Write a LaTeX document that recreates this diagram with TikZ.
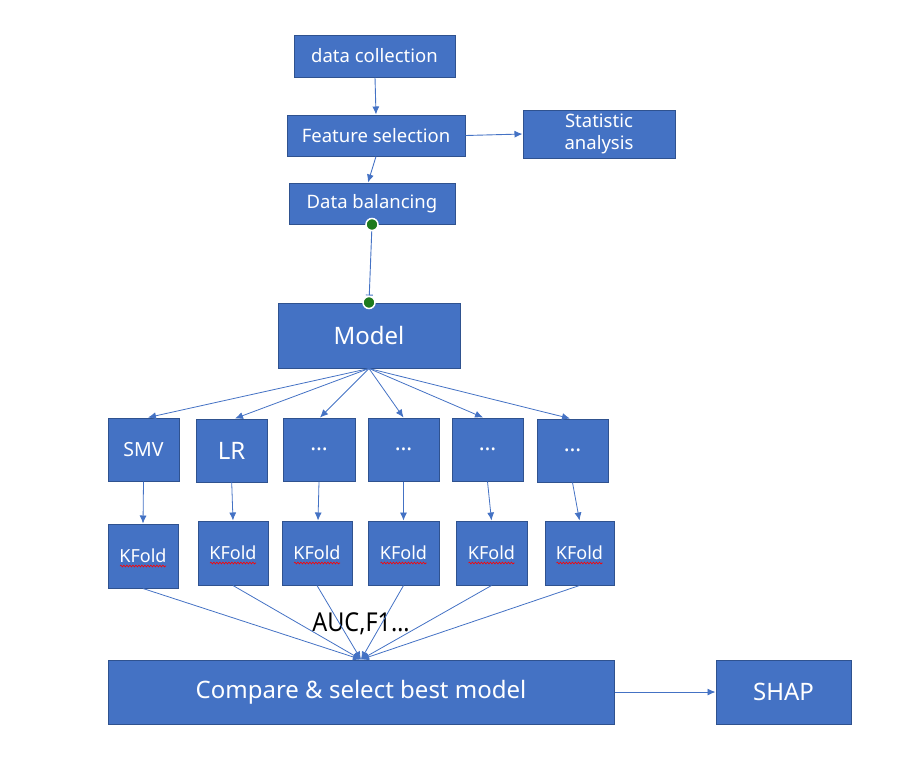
\documentclass[tikz,border=0pt]{standalone}
\usepackage{fontspec}
\setmainfont{Noto Sans}
\newfontfamily\narrowfont[FakeStretch=0.9]{Noto Sans}
\usetikzlibrary{arrows.meta,decorations.pathmorphing,calc}
\definecolor{blu}{HTML}{4472C4}
\definecolor{bdr}{HTML}{2F528F}
\definecolor{dotg}{HTML}{1E7A1E}
\newcommand{\fs}[1]{\fontsize{#1}{#1}\selectfont}
\tikzset{
  box/.style={draw=bdr, line width=1pt, fill=blu, text=white, inner sep=0pt, align=center},
  conn/.style={draw=blu, line width=0.9pt, -{Latex[length=8pt,width=7pt]}},
  fanline/.style={draw=blu, line width=0.8pt, -{Latex[length=8pt,width=7pt]}},
  gdot/.style={circle, fill=dotg, draw=white, line width=1.5pt, minimum size=12pt, inner sep=0pt},
  squig/.style={draw=red, line width=0.6pt, decorate, decoration={snake, amplitude=0.9pt, segment length=3pt}}
}
\begin{document}
\begin{tikzpicture}[x=1pt,y=-1pt]
\useasboundingbox (0,0) rectangle (912,756);
% top chain
\node[box, minimum width=161pt, minimum height=42pt, font=\fs{18.5}] (dc) at (374.5,56) {data collection};
\node[box, minimum width=178pt, minimum height=41pt, font=\fs{18.5}] (fs) at (376,135.5) {Feature selection};
\node[box, minimum width=152pt, minimum height=48pt, font=\fs{18.5}] (sa) at (599,134) {Statistic\\[4pt]analysis};
\node[box, minimum width=166pt, minimum height=41pt, font=\fs{18.5}] (db) at (372,203.5) {Data balancing};
\node[box, minimum width=182pt, minimum height=65pt, font=\fs{24}] (model) at (369,335.5) {Model};
% row 1
\node[box, minimum width=71pt, minimum height=63pt, font=\fs{19.5}] (m1) at (143.5,449.5) {SMV};
\node[box, minimum width=71pt, minimum height=63pt, font=\fs{24}] (m2) at (231.5,450.5) {LR};
\node[box, minimum width=72pt, minimum height=63pt, font=\fs{22}] (m3) at (319,449.5) {\ldots};
\node[box, minimum width=71pt, minimum height=63pt, font=\fs{22}] (m4) at (403.5,449.5) {\ldots};
\node[box, minimum width=71pt, minimum height=63pt, font=\fs{22}] (m5) at (487.5,449.5) {\ldots};
\node[box, minimum width=71pt, minimum height=63pt, font=\fs{22}] (m6) at (572.5,450.5) {\ldots};
% row 2
\node[box, minimum width=70pt, minimum height=64pt, font=\fs{18}] (k1) at (143,556) {KFold};
\node[box, minimum width=70pt, minimum height=64pt, font=\fs{18}] (k2) at (233,553) {KFold};
\node[box, minimum width=70pt, minimum height=64pt, font=\fs{18}] (k3) at (317,553) {KFold};
\node[box, minimum width=71pt, minimum height=64pt, font=\fs{18}] (k4) at (403.5,553) {KFold};
\node[box, minimum width=71pt, minimum height=64pt, font=\fs{18}] (k5) at (491.5,553) {KFold};
\node[box, minimum width=69pt, minimum height=64pt, font=\fs{18}] (k6) at (579.5,553) {KFold};
% red spell-check underlines
\foreach \k in {k1,k2,k3,k4,k5,k6}{
  \draw[squig] ($(\k.center)+(-23,10)$) -- ($(\k.center)+(23,10)$);
}
% bottom
\node[box, minimum width=506pt, minimum height=64pt, font=\fs{24}] (cmp) at (361,692) {Compare \& select best model};
\node[box, minimum width=135pt, minimum height=64pt, font=\fs{24}] (shap) at (783.5,692) {SHAP};
\node[font=\narrowfont\fs{26}, text=black, inner sep=0pt] (auc) at (361,624) {AUC,F1\ldots};
% connectors
\draw[conn] ([xshift=0.5pt]dc.south) -- ([xshift=0pt]fs.north);
\draw[conn] (fs.east) -- (sa.west);
\draw[conn] (fs.south) -- ([xshift=-4pt]db.north);
\draw[draw=blu, line width=0.9pt, -{Bar[width=7pt]}, shorten >=7pt] (db.south) -- (model.north);
\node[gdot] (dA) at (db.south) {};
\node[gdot] (dB) at (model.north) {};
% fan
\draw[fanline] (model.south) -- ([xshift=4.5pt]m1.north);
\draw[fanline] (model.south) -- ([xshift=3.5pt]m2.north);
\draw[fanline] (model.south) -- ([xshift=1pt]m3.north);
\draw[fanline] (model.south) -- (m4.north);
\draw[fanline] (model.south) -- ([xshift=-4.5pt]m5.north);
\draw[fanline] (model.south) -- ([xshift=-2.5pt]m6.north);
% row1 -> row2
\draw[fanline] (m1.south) -- (k1.north);
\draw[fanline] ([yshift=6pt]m2.south) -- (k2.north);
\draw[fanline] (m3.south) -- ([xshift=1pt]k3.north);
\draw[fanline] (m4.south) -- (k4.north);
\draw[fanline] (m5.south) -- (k5.north);
\draw[fanline] (m6.south) -- (k6.north);
% row2 -> compare
\foreach \k in {k1,k2,k3,k4,k5,k6}{
  \draw[fanline] (\k.south) -- (cmp.north);
}
\draw[conn] (cmp.east) -- (shap.west);
\end{tikzpicture}
\end{document}
